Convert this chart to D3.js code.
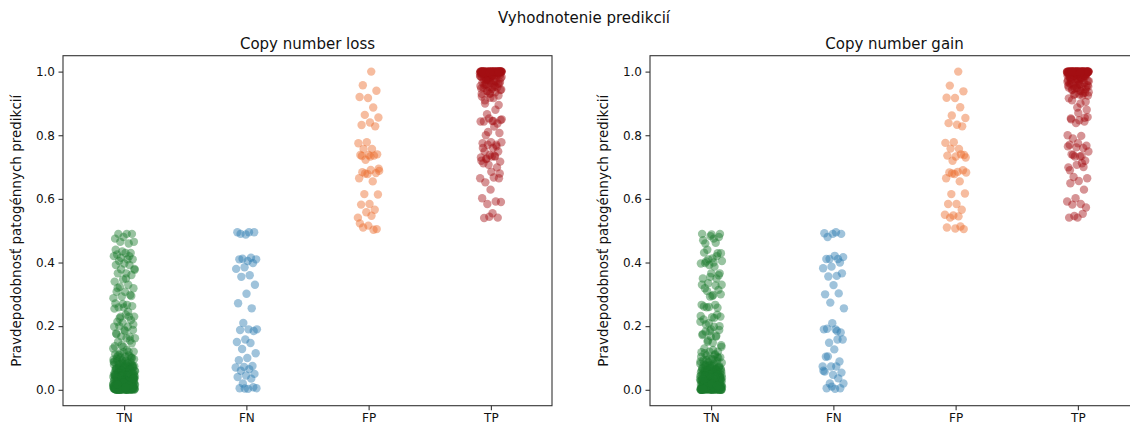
<!DOCTYPE html>
<html>
<head>
<meta charset="utf-8">
<script src="https://cdn.jsdelivr.net/npm/d3@7"></script>
<style>
  body { margin: 0; background: #fff; }
  svg { display: block; font-family: "DejaVu Sans", sans-serif; }
</style>
</head>
<body>
<script>
// categories on the x axis
var categories = ["TN", "FN", "FP", "TP"];
var yTicks = [0, 0.2, 0.4, 0.6, 0.8, 1.0];
var colors = ["#1a7a2c", "#2b7bb0", "#ea6a2a", "#a50f15"];

// Copy number loss
var lossTN = [
  0.49,0.49,0.49,0.48,0.475,0.46,0.465,0.465,0.43,0.425,0.43,0.435,0.42,0.41,0.405,0.41,0.397,0.392,0.392,0.379,
  0.377,0.366,0.366,0.361,0.347,0.34,0.33,0.324,0.319,0.308,0.308,0.298,0.293,0.288,0.267,0.259,0.263,0.259,0.271,0.23,
  0.23,0.23,0.236,0.214,0.219,0.211,0.198,0.198,0.2,0.188,0.188,0.177,0.167,0.167,0.162,0.162,0.151,0.146,0.135,0.137,
  0.12,0.115,0.12,0.104,0.098,0.104,0.094,0.088,0.083,0.081,0.073,0.073,0.44,0.42,0.415,0.38,0.35,0.32,0.295,0.27,
  0.255,0.245,0.225,0.205,0.185,0.175,0.155,0.14,0.13,0.125,0.11,0.1,
  0.118,0.112,0.108,0.102,0.096,0.092,0.09,0.086,0.082,0.079,0.076,0.072,0.07,0.068,0.066,0.064,0.062,0.06,0.058,0.057,
  0.056,0.055,0.054,0.053,0.052,0.051,0.05,0.065,0.075,0.085,0.095,0.061,0.069,0.077,0.059,0.063,0.071,0.067,0.074,0.08,
  0.105,0.099,0.091,0.087,0.084,0.078,0.073,0.069,0.066,0.063,0.06,0.058,0.055,0.053,0.051,0.049,0.047,0.046,0.044,0.043,
  0.001,0.003,0.000,0.002,0.005,0.008,0.004,0.012,0.006,0.015,0.009,0.020,0.002,0.011,0.025,0.007,0.018,0.030,0.001,0.013,
  0.022,0.035,0.004,0.016,0.027,0.040,0.003,0.010,0.019,0.032,0.045,0.006,0.014,0.024,0.038,0.000,0.008,0.021,0.029,0.048,
  0.005,0.017,0.033,0.002,0.012,0.026,0.042,0.009,0.001,0.023,0.036,0.004,0.015,0.028,0.050,0.007,0.019,0.031,0.003,0.011,
  0.044,0.000,0.014,0.024,0.039,0.006,0.020,0.034,0.002,0.010,0.027,0.046,0.008,0.016,0.001,0.037,0.013,0.025,0.004,0.041,
  0.018,0.030,0.005,0.009,0.022,0.043,0.003,0.012,0.035,0.000,0.017,0.028,0.006,0.047,0.011,0.021,0.002,0.032,0.015,0.007,
  0.000,0.004,0.010,0.001,0.006,0.015,0.002,0.021,0.008,0.003,0.012,0.026,0.000,0.005,0.017,0.009,0.031,0.001,0.013,0.004,
  0.023,0.007,0.000,0.019,0.011,0.002,0.028,0.006,0.014,0.003,0.035,0.010,0.000,0.022,0.005,0.016,0.001,0.008,0.025,0.012,
  0.003,0.018,0.000,0.007,0.029,0.002,0.011,0.020,0.004,0.000,0.014,0.033,0.006,0.001,0.024,0.009,0.016,0.003,0.038,0.005,
  0.000,0.012,0.027,0.002,0.008,0.019,0.001,0.004,0.030,0.010,0.000,0.015,0.006,0.022,0.003,0.013,0.001,0.036,0.007,0.017
];
var lossFN = [
  0.495,0.49,0.495,0.488,0.495,0.415,0.412,0.41,0.405,0.41,0.398,0.385,0.38,0.36,0.355,0.33,0.302,0.272,0.256,0.21,
  0.19,0.19,0.188,0.185,0.158,0.15,0.147,0.128,0.115,0.1,0.093,0.075,0.072,0.07,0.065,0.06,0.05,0.045,0.04,0.035,
  0.02,0.005,0.003,0.005,0.008,0.004
];
var lossFP = [
  1.0,0.957,0.94,0.917,0.92,0.887,0.864,0.856,0.84,0.832,0.828,0.778,0.775,0.757,0.757,0.74,0.738,0.738,0.736,0.723,
  0.688,0.691,0.684,0.681,0.678,0.665,0.655,0.615,0.614,0.584,0.582,0.566,0.558,0.541,0.547,0.51,0.505,0.516,0.523,0.503,
  0.68,0.695,0.733,0.735
];
var lossTP = [
  0.917,0.9,0.895,0.918,0.922,0.88,0.866,0.848,0.845,0.843,0.837,0.853,0.843,0.827,0.8,0.807,0.778,0.775,0.77,0.77,
  0.778,0.76,0.749,0.749,0.738,0.72,0.733,0.727,0.717,0.733,0.712,0.699,0.707,0.665,0.667,0.652,0.665,0.629,0.602,0.592,
  0.584,0.59,0.555,0.54,0.541,0.544,0.73,0.735,0.725,0.68,0.685,0.76,0.765,0.81,0.85,0.845,0.91,0.925,0.93,
  0.93,0.935,0.94,0.942,0.945,0.948,0.95,0.952,0.955,0.957,0.96,0.962,0.964,0.966,0.968,0.938,0.944,0.951,0.958,0.963,
  0.932,0.947,0.953,0.961,0.967,
  1.0,1.0,0.998,1.0,0.995,1.0,0.99,1.0,0.985,1.0,0.999,0.98,1.0,0.996,0.975,1.0,0.992,1.0,0.97,0.997,
  1.0,0.988,1.0,0.994,0.978,1.0,0.999,0.983,1.0,0.972,0.998,1.0,0.991,1.0,0.986,0.995,1.0,0.976,1.0,0.999,
  0.993,1.0,0.981,1.0,0.997,0.973,1.0,0.989,1.0,0.996,0.984,1.0,0.999,0.977,1.0,0.992,1.0,0.987,0.998,1.0,
  0.971,1.0,0.994,1.0,0.982,0.999,1.0,0.979,1.0,0.997,0.99,1.0,0.985,1.0,0.974,0.998,1.0,0.993,1.0,0.996,
  1.0,0.999,1.0,0.996,1.0,0.992,0.998,1.0,0.989,1.0,0.995,1.0,0.999,0.986,1.0,0.997,1.0,0.993,1.0,0.999,
  0.998,1.0,0.991,1.0,0.996,1.0,0.999,0.988,1.0,0.994,1.0,0.997,1.0,0.999,0.983,1.0,0.995,1.0,0.998,1.0
];

// Copy number gain
var gainTN = [
  0.475,0.46,0.48,0.483,0.49,0.462,0.44,0.429,0.413,0.431,0.429,0.392,0.397,0.387,0.403,0.366,0.366,0.35,0.35,0.335,
  0.33,0.298,0.319,0.314,0.293,0.267,0.267,0.259,0.23,0.228,0.221,0.236,0.209,0.214,0.198,0.183,0.188,0.167,0.172,0.167,
  0.151,0.14,0.148,0.13,0.12,0.12,0.104,0.109,0.094,0.49,0.488,0.47,0.42,0.41,0.405,0.4,0.398,0.36,0.355,0.33,
  0.328,0.31,0.3,0.295,0.262,0.258,0.26,0.232,0.226,0.205,0.2,0.19,0.175,0.17,0.155,0.135,0.125,0.115,0.1,0.185,
  0.118,0.112,0.108,0.102,0.096,0.092,0.09,0.086,0.082,0.079,0.076,0.072,0.07,0.068,0.066,0.064,0.062,0.06,0.058,0.057,
  0.056,0.055,0.054,0.053,0.052,0.051,0.05,0.065,0.075,0.085,0.095,0.061,0.069,0.077,0.059,0.063,0.071,0.067,0.074,0.08,
  0.103,0.097,0.089,0.083,0.079,0.074,0.07,0.066,0.062,0.059,0.056,0.054,0.052,0.049,0.047,0.045,0.044,0.042,0.041,0.04,
  0.004,0.000,0.002,0.009,0.005,0.013,0.001,0.017,0.007,0.022,0.003,0.011,0.028,0.006,0.019,0.034,0.000,0.014,0.025,0.040,
  0.002,0.010,0.021,0.031,0.046,0.005,0.016,0.027,0.038,0.001,0.008,0.020,0.033,0.049,0.004,0.012,0.024,0.043,0.003,0.015,
  0.029,0.006,0.000,0.018,0.036,0.009,0.023,0.044,0.002,0.011,0.030,0.007,0.016,0.039,0.001,0.026,0.048,0.005,0.013,0.032,
  0.003,0.020,0.041,0.008,0.000,0.024,0.035,0.010,0.017,0.045,0.004,0.028,0.006,0.014,0.037,0.002,0.022,0.042,0.012,0.001,
  0.019,0.031,0.007,0.047,0.003,0.015,0.026,0.009,0.038,0.005,0.021,0.000,0.033,0.011,0.044,0.002,0.018,0.027,0.006,0.013,
  0.001,0.005,0.000,0.011,0.003,0.016,0.007,0.000,0.022,0.002,0.009,0.014,0.004,0.027,0.000,0.006,0.018,0.001,0.012,0.031,
  0.003,0.008,0.000,0.020,0.005,0.015,0.002,0.025,0.010,0.000,0.004,0.034,0.007,0.013,0.001,0.019,0.003,0.029,0.006,0.000,
  0.011,0.002,0.024,0.008,0.000,0.016,0.004,0.037,0.001,0.010,0.021,0.005,0.000,0.014,0.003,0.028,0.007,0.017,0.002,0.009,
  0.000,0.023,0.006,0.012,0.001,0.033,0.004,0.018,0.000,0.008,0.026,0.002,0.015,0.005,0.039,0.010,0.001,0.020,0.003,0.013
];
var gainFN = [
  0.495,0.48,0.49,0.49,0.492,0.411,0.411,0.417,0.421,0.411,0.4,0.387,0.382,0.358,0.356,0.366,0.329,0.3,0.303,0.274,
  0.256,0.19,0.192,0.18,0.209,0.19,0.158,0.148,0.158,0.127,0.104,0.089,0.073,0.073,0.073,0.105,0.054,0.047,0.057,0.036,
  0.02,0.02,0.003,0.005,0.005,0.01,0.06,0.185
];
var gainFP = [
  1.0,0.956,0.938,0.917,0.918,0.888,0.862,0.854,0.833,0.838,0.828,0.778,0.776,0.757,0.758,0.738,0.733,0.736,0.74,0.72,
  0.683,0.685,0.683,0.69,0.678,0.665,0.655,0.615,0.617,0.584,0.584,0.566,0.548,0.55,0.545,0.541,0.505,0.507,0.51,0.513,
  0.68,0.73
];
var gainTP = [
  0.9,0.91,0.905,0.887,0.916,0.925,0.927,0.857,0.847,0.853,0.843,0.838,0.8,0.798,0.79,0.767,0.775,0.77,0.76,0.733,
  0.749,0.733,0.74,0.72,0.707,0.699,0.712,0.669,0.665,0.656,0.649,0.629,0.602,0.592,0.584,0.582,0.573,0.541,0.541,0.553,
  0.546,0.925,0.928,0.85,0.855,0.762,0.765,0.735,0.738,0.88,0.87,0.69,0.7,
  0.93,0.935,0.94,0.942,0.945,0.948,0.95,0.952,0.955,0.957,0.96,0.962,0.964,0.966,0.968,0.938,0.944,0.951,0.958,0.963,
  0.932,0.947,0.953,0.961,0.967,0.934,0.949,0.956,
  1.0,0.997,1.0,0.993,1.0,0.988,1.0,0.999,0.982,1.0,0.995,0.976,1.0,0.991,1.0,0.971,0.998,1.0,0.986,1.0,
  0.994,0.979,1.0,0.999,0.989,1.0,0.974,0.996,1.0,0.984,1.0,0.992,0.977,1.0,0.998,0.987,1.0,0.972,0.995,1.0,
  0.99,1.0,0.981,0.999,1.0,0.975,0.997,1.0,0.985,1.0,0.993,0.978,1.0,0.996,0.973,1.0,0.989,0.999,1.0,0.983,
  1.0,0.994,0.97,1.0,0.998,0.986,1.0,0.991,0.98,1.0,0.997,1.0,0.975,0.995,1.0,0.988,1.0,0.999,0.992,1.0,
  0.999,1.0,0.995,1.0,0.998,0.99,1.0,0.996,1.0,0.999,0.987,1.0,0.993,1.0,0.997,1.0,0.999,0.984,1.0,0.996,
  1.0,0.998,0.992,1.0,0.999,1.0,0.995,0.989,1.0,0.997,1.0,0.999,0.994,1.0,0.981,1.0,0.998,1.0,0.996,1.0
];

var W = 1130, H = 426;
var svg = d3.select("body").append("svg").attr("width", W).attr("height", H);

var plotTop = 55.7, plotBottom = 405.7;
var panels = [
  {title: "Copy number loss", x0: 63, x1: 552, series: [lossTN, lossFN, lossFP, lossTP]},
  {title: "Copy number gain", x0: 650, x1: 1139, series: [gainTN, gainFN, gainFP, gainTP]}
];

svg.append("text")
  .attr("x", 584).attr("y", 23)
  .attr("text-anchor", "middle")
  .style("font-size", "15px").style("fill", "#111")
  .text("Vyhodnotenie predikcií");

// deterministic spread inside a column (golden ratio sequence)
function jitter(i){
  return (((i + 1) * 0.6180339887) % 1) * 2 - 1;
}

panels.forEach(function(p, pi){
  var x = d3.scalePoint().domain(categories).range([p.x0, p.x1]).padding(0.5);
  var y = d3.scaleLinear().domain([-0.05, 1.05]).range([plotBottom, plotTop]);
  var jw = x.step() * 0.09;

  var g = svg.append("g");
  var clipId = "clip" + pi;
  g.append("clipPath").attr("id", clipId)
    .append("rect").attr("x", p.x0).attr("y", plotTop)
    .attr("width", p.x1 - p.x0).attr("height", plotBottom - plotTop);

  var dots = g.append("g").attr("clip-path", "url(#" + clipId + ")");
  p.series.forEach(function(vals, ci){
    dots.append("g").selectAll("circle")
      .data(vals)
      .enter()
      .append("circle")
      .attr("cx", function(d, i){ return x(categories[ci]) + jitter(i) * jw; })
      .attr("cy", function(d){ return y(d); })
      .attr("r", 4.2)
      .style("fill", colors[ci])
      .style("fill-opacity", 0.45);
  });

  g.append("rect")
    .attr("x", p.x0).attr("y", plotTop)
    .attr("width", p.x1 - p.x0).attr("height", plotBottom - plotTop)
    .style("fill", "none").style("stroke", "#333").style("stroke-width", 1.1);

  var ya = g.append("g").attr("transform", "translate(" + p.x0 + ",0)")
    .call(d3.axisLeft(y).tickValues(yTicks).tickFormat(d3.format(".1f")).tickSize(4.5).tickPadding(3.5));
  var xa = g.append("g").attr("transform", "translate(0," + plotBottom + ")")
    .call(d3.axisBottom(x).tickSize(4.5).tickPadding(3.5));
  [ya, xa].forEach(function(a){
    a.select(".domain").remove();
    a.selectAll("line").style("stroke", "#333").style("stroke-width", 1.1);
    a.selectAll("text").style("font-size", "12px").style("fill", "#111")
      .style("font-family", "DejaVu Sans, sans-serif");
  });

  g.append("text")
    .attr("x", (p.x0 + p.x1) / 2)
    .attr("y", 49)
    .attr("text-anchor", "middle")
    .style("font-size", "15px").style("fill", "#111")
    .text(p.title);

  g.append("text")
    .attr("transform", "translate(" + (p.x0 - 42) + "," + ((plotTop + plotBottom) / 2) + ") rotate(-90)")
    .attr("text-anchor", "middle")
    .style("font-size", "13.5px").style("fill", "#111")
    .text("Pravdepodobnosť patogénnych predikcií");
});
</script>
</body>
</html>
